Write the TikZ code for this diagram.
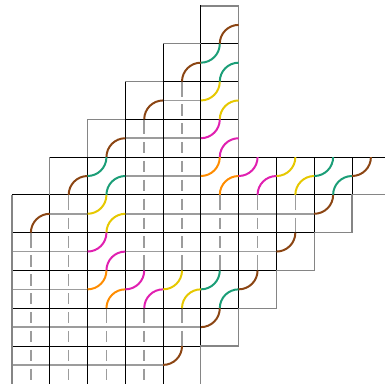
\documentclass[tikz,border=0pt]{standalone}
\definecolor{pbrown}{HTML}{8B4513}
\definecolor{pteal}{HTML}{1B9E77}
\definecolor{pyellow}{HTML}{E6C800}
\definecolor{pmagenta}{HTML}{E020B0}
\definecolor{porange}{HTML}{FF8C00}
\definecolor{pgray}{HTML}{9C9C9C}
\definecolor{bdgray}{HTML}{858585}
\tikzset{
  gridline/.style={black,line width=0.75pt},
  bdline/.style={bdgray,line width=0.9pt},
  hpipe/.style={pgray,line width=1.25pt},
  vpipe/.style={pgray,line width=1.25pt},
  arcline/.style={line width=1.5pt},
}
% #1=row, #2=col, #3=colour
\newcommand\pTL[3]{\draw[arcline,#3] (#2,-#1-0.5) arc[start angle=-90,end angle=0,radius=0.5];}
\newcommand\pBR[3]{\draw[arcline,#3] (#2+0.5,-#1-1) arc[start angle=180,end angle=90,radius=0.5];}
\newcommand\pBump[3]{\pTL{#1}{#2}{#3}\pBR{#1}{#2}{#3}}
% horizontal pipe: row, x1, x2
\newcommand\pHor[3]{\draw[hpipe] (#2,-#1-0.5) -- (#3,-#1-0.5);}
% vertical pipe: col, from row-line a to row-line b
\newcommand\pVer[3]{%
  \draw[vpipe,dash pattern=on 0.3cm off 0.2cm,dash phase=0.4cm] (#1+0.5,-#2) -- (#1+0.5,-#3);
  \draw[vpipe] (#1+0.5,-#2) -- (#1+0.5,-#2-0.1);
  \draw[vpipe] (#1+0.5,-#3+0.1) -- (#1+0.5,-#3);}
\begin{document}
\begin{tikzpicture}
\useasboundingbox (-0.3176,0.1588) rectangle (9.873,-9.979);
\clip (-0.3176,0.1588) rectangle (9.873,-9.979);
% straight pipes
\pHor{2}{4}{5}
\pHor{3}{3}{5}
\pHor{4}{3}{5}
\pHor{5}{1}{2}
\pHor{5}{3}{8}
\pHor{6}{0}{2}
\pHor{6}{3}{7}
\pHor{7}{0}{2}
\pHor{8}{0}{5}
\pHor{9}{0}{4}
\pVer{0}{6}{10.5}
\pVer{1}{5}{10.5}
\pVer{2}{8}{10.5}
\pVer{3}{3}{7}
\pVer{3}{8}{10.5}
\pVer{4}{2}{7}
\pVer{4}{8}{9}
\pVer{5}{5}{7}
\pVer{6}{5}{7}
\pVer{7}{5}{6}
% grid
\foreach \r/\a/\b in {0/5/5,1/4/5,2/3/5,3/2/5,4/1/9,5/0/8,6/0/7,7/0/6,8/0/5}
  \foreach \c in {\a,...,\b}
    \draw[gridline] (\c,-\r) rectangle ++(1,-1);
\foreach \c in {0,...,5}
  \draw[gridline] (\c,-9) -- (\c,-10.5);
% lighter outline
\draw[bdline] (5,0) -- (6,0) -- (6,-4);
\draw[bdline] (4,-1) -- (5,-1);
\draw[bdline] (3,-2) -- (4,-2);
\draw[bdline] (2,-3) -- (3,-3);
\draw[bdline] (2,-3) -- (2,-4);
\draw[bdline] (1,-4) -- (1,-5);
\draw[bdline] (0,-5) -- (0,-10.5);
\draw[bdline] (10.5,-5) -- (9,-5) -- (9,-6) -- (8,-6) -- (8,-7) -- (7,-7) -- (7,-8) -- (6,-8) -- (6,-9) -- (5,-9) -- (5,-10.5);
% elbows
\pBR{0}{5}{pbrown}
\pBR{1}{4}{pbrown}
\pBump{1}{5}{pteal}
\pBR{2}{3}{pbrown}
\pBump{2}{5}{pyellow}
\pBR{3}{2}{pbrown}
\pBump{3}{5}{pmagenta}
\pBR{4}{1}{pbrown}
\pBump{4}{2}{pteal}
\pBump{4}{5}{porange}
\pBump{4}{6}{pmagenta}
\pBump{4}{7}{pyellow}
\pBump{4}{8}{pteal}
\pTL{4}{9}{pbrown}
\pBR{5}{0}{pbrown}
\pBump{5}{2}{pyellow}
\pTL{5}{8}{pbrown}
\pBump{6}{2}{pmagenta}
\pTL{6}{7}{pbrown}
\pBump{7}{2}{porange}
\pBump{7}{3}{pmagenta}
\pBump{7}{4}{pyellow}
\pBump{7}{5}{pteal}
\pTL{7}{6}{pbrown}
\pTL{8}{5}{pbrown}
\pTL{9}{4}{pbrown}
\end{tikzpicture}
\end{document}
